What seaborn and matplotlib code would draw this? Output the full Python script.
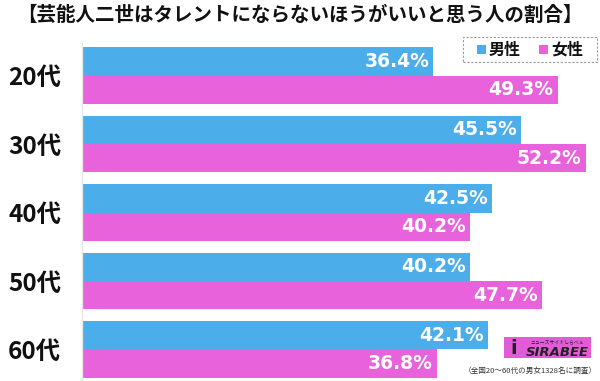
import matplotlib
matplotlib.use("Agg")
import matplotlib.pyplot as plt
import seaborn as sns
import pandas as pd
from matplotlib.patches import Rectangle

categories = ["20代", "30代", "40代", "50代", "60代"]
male = [36.4, 45.5, 42.5, 40.2, 42.1]
female = [49.3, 52.2, 40.2, 47.7, 36.8]
series_names = ["男性", "女性"]
title = "【芸能人二世はタレントにならないほうがいいと思う人の割合】"
note = "（全国20〜60代の男女1328名に調査）"

colors = ["#4BAEEA", "#E862DC"]

sns.set_style("white")
plt.rcParams['font.family'] = ['Noto Sans CJK JP', 'DejaVu Sans']

df = pd.DataFrame({
    "age": categories * 2,
    "value": male + female,
    "sex": [series_names[0]] * len(categories) + [series_names[1]] * len(categories),
})

fig = plt.figure(figsize=(6, 3.81), dpi=100)
ax = fig.add_axes([82 / 600, 0, 511.5 / 600, 339 / 381])

sns.barplot(data=df, y="age", x="value", hue="sex", orient="h",
            palette=colors, width=0.83, gap=0, ax=ax, legend=False,
            saturation=1, edgecolor="none", linewidth=0)

ax.set_xlim(0, 53)
ax.set_ylim(4.46, -0.49)
ax.set_xlabel("")
ax.set_ylabel("")
ax.set_xticks([])
for s in ["top", "right", "bottom"]:
    ax.spines[s].set_visible(False)
ax.spines["left"].set_color("#e6e6e6")
ax.spines["left"].set_linewidth(1)
ax.tick_params(axis="y", length=0, pad=15)
for lab in ax.get_yticklabels():
    lab.set_fontsize(17.5)
    lab.set_fontweight("bold")
    lab.set_color("#111111")

for cont in ax.containers:
    for p in cont:
        w = p.get_width()
        ax.annotate(f"{w:.1f}%", xy=(w, p.get_y() + p.get_height() / 2),
                    xytext=(-3, 0), textcoords="offset points",
                    ha="right", va="center", color="white",
                    fontsize=13.5, fontweight="bold",
                    family=["DejaVu Sans"])

fig.text(0.5, 1 - 15 / 381, title, ha="center", va="center",
         fontsize=14, fontweight="bold", color="#111111")

# legend box
lx0, ly0, lw, lh = 463 / 600, 1 - 62 / 381, 134 / 600, 25 / 381
fig.patches.append(Rectangle((lx0, ly0), lw, lh, transform=fig.transFigure,
                             facecolor="white", edgecolor="#999999",
                             linestyle=(0, (2, 1.5)), linewidth=0.8))
for i, (name, c) in enumerate(zip(series_names, colors)):
    x0 = (477 + i * 62) / 600
    yc = 1 - 49.5 / 381
    fig.patches.append(Rectangle((x0, yc - 4.5 / 381), 9 / 600, 9 / 381,
                                 transform=fig.transFigure, facecolor=c,
                                 edgecolor="none"))
    fig.text(x0 + 12 / 600, yc, name, ha="left", va="center",
             fontsize=11.5, fontweight="bold", color="#111111")

# logo
fig.patches.append(Rectangle((504 / 600, 1 - 358 / 381), 87 / 600, 21 / 381,
                             transform=fig.transFigure, facecolor="#E25CD6",
                             edgecolor="none"))
fig.text(514 / 600, 1 - 348 / 381, "i", ha="center", va="center",
         fontsize=14, fontweight="bold", color="#222222",
         family=["DejaVu Sans"])
fig.text(557 / 600, 1 - 352.5 / 381, "SIRABEE", ha="center", va="center",
         fontsize=9.5, fontweight="bold", style="italic", color="#222222",
         family=["DejaVu Sans"])
fig.text(557 / 600, 1 - 341.5 / 381, "ニュースサイトしらべぇ", ha="center", va="center",
         fontsize=3.5, color="#222222")
fig.text(597 / 600, 1 - 371 / 381, note, ha="right", va="center",
         fontsize=5.5, color="#333333")

fig.savefig("out.png", dpi=100)
